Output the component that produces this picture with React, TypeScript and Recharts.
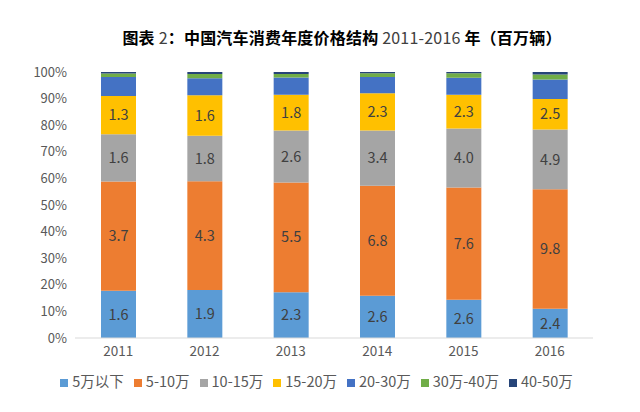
import React from 'react';
import { BarChart, Bar, XAxis, YAxis, Legend, LabelList } from 'recharts';

// Values in millions of vehicles, per year
const years = ['2011', '2012', '2013', '2014', '2015', '2016'];
const under5 = [1.6, 1.9, 2.3, 2.6, 2.6, 2.4];
const r5to10 = [3.7, 4.3, 5.5, 6.8, 7.6, 9.8];
const r10to15 = [1.6, 1.8, 2.6, 3.4, 4.0, 4.9];
const r15to20 = [1.3, 1.6, 1.8, 2.3, 2.3, 2.5];
const r20to30 = [0.64, 0.67, 0.87, 1.0, 1.15, 1.6];
const r30to40 = [0.12, 0.17, 0.17, 0.23, 0.3, 0.42];
const r40to50 = [0.05, 0.08, 0.1, 0.08, 0.09, 0.2];
const yTicks = [0, 0.1, 0.2, 0.3, 0.4, 0.5, 0.6, 0.7, 0.8, 0.9, 1];

const series = [
  { key: 'under5', name: '5万以下', color: '#5B9BD5', values: under5, label: true },
  { key: 'r5to10', name: '5-10万', color: '#ED7D31', values: r5to10, label: true },
  { key: 'r10to15', name: '10-15万', color: '#A5A5A5', values: r10to15, label: true },
  { key: 'r15to20', name: '15-20万', color: '#FFC000', values: r15to20, label: true },
  { key: 'r20to30', name: '20-30万', color: '#4472C4', values: r20to30, label: false },
  { key: 'r30to40', name: '30万-40万', color: '#70AD47', values: r30to40, label: false },
  { key: 'r40to50', name: '40-50万', color: '#264478', values: r40to50, label: false },
];

const data = years.map((year, i) => {
  const row: Record<string, any> = { year };
  series.forEach(s => { row[s.key] = s.values[i]; });
  return row;
});

const FONT = '"Noto Sans CJK SC", "Noto Sans", sans-serif';

const App: React.FC = () => {
  return (
    <div style={{ position: 'absolute', left: 0, top: 0, width: 640, height: 412, background: '#fff', fontFamily: FONT }}>
      <div style={{ position: 'absolute', top: 25, left: 0, width: 684, textAlign: 'center', fontSize: 16, color: '#000', letterSpacing: 0.2 }}>
        <span style={{ fontWeight: 700 }}>图表 </span>
        <span style={{ color: '#404040' }}>2</span>
        <span style={{ fontWeight: 700 }}>：中国汽车消费年度价格结构 </span>
        <span style={{ color: '#404040' }}>2011-2016 </span>
        <span style={{ fontWeight: 700 }}>年（百万辆）</span>
      </div>
      <BarChart
        width={640}
        height={412}
        data={data}
        stackOffset="expand"
        barSize={35}
        margin={{ top: 72, right: 47, left: 10, bottom: 14 }}
      >
        <XAxis
          dataKey="year"
          axisLine={{ stroke: '#D9D9D9' }}
          tickLine={false}
          tick={{ fill: '#595959', fontSize: 13.5, fontFamily: FONT }}
          height={30}
        />
        <YAxis
          ticks={yTicks}
          domain={[0, 1]}
          tickFormatter={(v: number) => `${Math.round(v * 100)}%`}
          axisLine={false}
          tickLine={false}
          tick={{ fill: '#595959', fontSize: 13, fontFamily: FONT }}
          width={65}
        />
        <Legend
          verticalAlign="bottom"
          height={30}
          iconType="square"
          iconSize={8}
          wrapperStyle={{ left: 30 }}
          itemSorter={(item: any) => series.findIndex(s => s.key === item.dataKey)}
          formatter={(value: string) => <span style={{ color: '#595959', fontSize: 14.5 }}>{value}</span>}
        />
        {series.map(s => (
          <Bar key={s.key} dataKey={s.key} name={s.name} stackId="a" fill={s.color} isAnimationActive={false}>
            {s.label && (
              <LabelList
                dataKey={s.key}
                position="center"
                formatter={(v: number) => v.toFixed(1)}
                style={{ fill: '#404040', fontSize: 14.5, fontFamily: FONT }}
              />
            )}
          </Bar>
        ))}
      </BarChart>
    </div>
  );
};

export default App;
